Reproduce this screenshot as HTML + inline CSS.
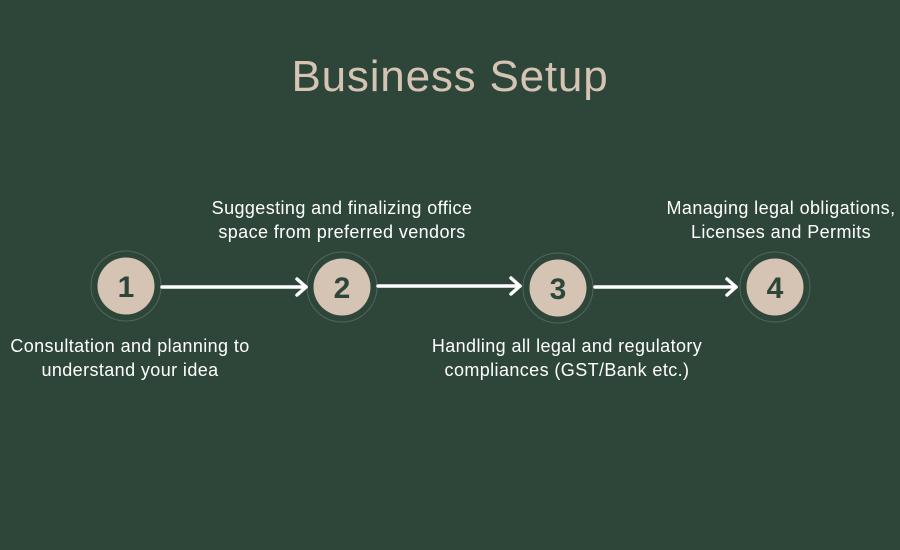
<!DOCTYPE html>
<html><head><style>
body{margin:0;width:900px;height:550px;background:#2e4639;overflow:hidden;font-family:"Liberation Sans",sans-serif}
.t{position:absolute;color:#fff;font-size:18px;letter-spacing:0.4px;text-align:center;line-height:24px;white-space:nowrap}
</style></head><body>
<div style="position:absolute;left:0;width:900px;top:51px;text-align:center;color:#d5c4b3;font-size:44px;letter-spacing:0.8px;line-height:52px">Business Setup</div>
<svg width="900" height="550" style="position:absolute;left:0;top:0">
<g fill="#d5c4b3" stroke="none">
<circle cx="126" cy="286" r="28.5"/><circle cx="342" cy="287" r="28.5"/><circle cx="558" cy="288" r="28.5"/><circle cx="775" cy="287" r="28.5"/>
</g>
<g fill="none" stroke="#50665a" stroke-width="1">
<circle cx="126" cy="286" r="35"/><circle cx="342" cy="287" r="35"/><circle cx="558" cy="288" r="35"/><circle cx="775" cy="287" r="35"/>
</g>
<g stroke="#fff" stroke-width="3.5" fill="none" stroke-linecap="round" stroke-linejoin="round">
<line x1="162" y1="287" x2="306" y2="287"/><polyline points="297,279 306,287 297,295"/>
<line x1="378" y1="286" x2="520" y2="286"/><polyline points="511,278 520,286 511,294"/>
<line x1="595" y1="287" x2="736" y2="287"/><polyline points="727,279 736,287 727,295"/>
</g>
<g fill="#2e4639" font-family="Liberation Sans,sans-serif" font-weight="bold" font-size="30" text-anchor="middle">
<text x="126" y="297">1</text><text x="342" y="298">2</text><text x="558" y="299">3</text><text x="775" y="298">4</text>
</g>
</svg>
<div class="t" style="width:420px;top:196px;left:132px">Suggesting and finalizing office<br>space from preferred vendors</div>
<div class="t" style="left:571px;width:420px;top:196px">Managing legal obligations,<br>Licenses and Permits</div>
<div class="t" style="left:-80px;width:420px;top:334px">Consultation and planning to<br>understand your idea</div>
<div class="t" style="left:357px;width:420px;top:334px">Handling all legal and regulatory<br>compliances (GST/Bank etc.)</div>
</body></html>
